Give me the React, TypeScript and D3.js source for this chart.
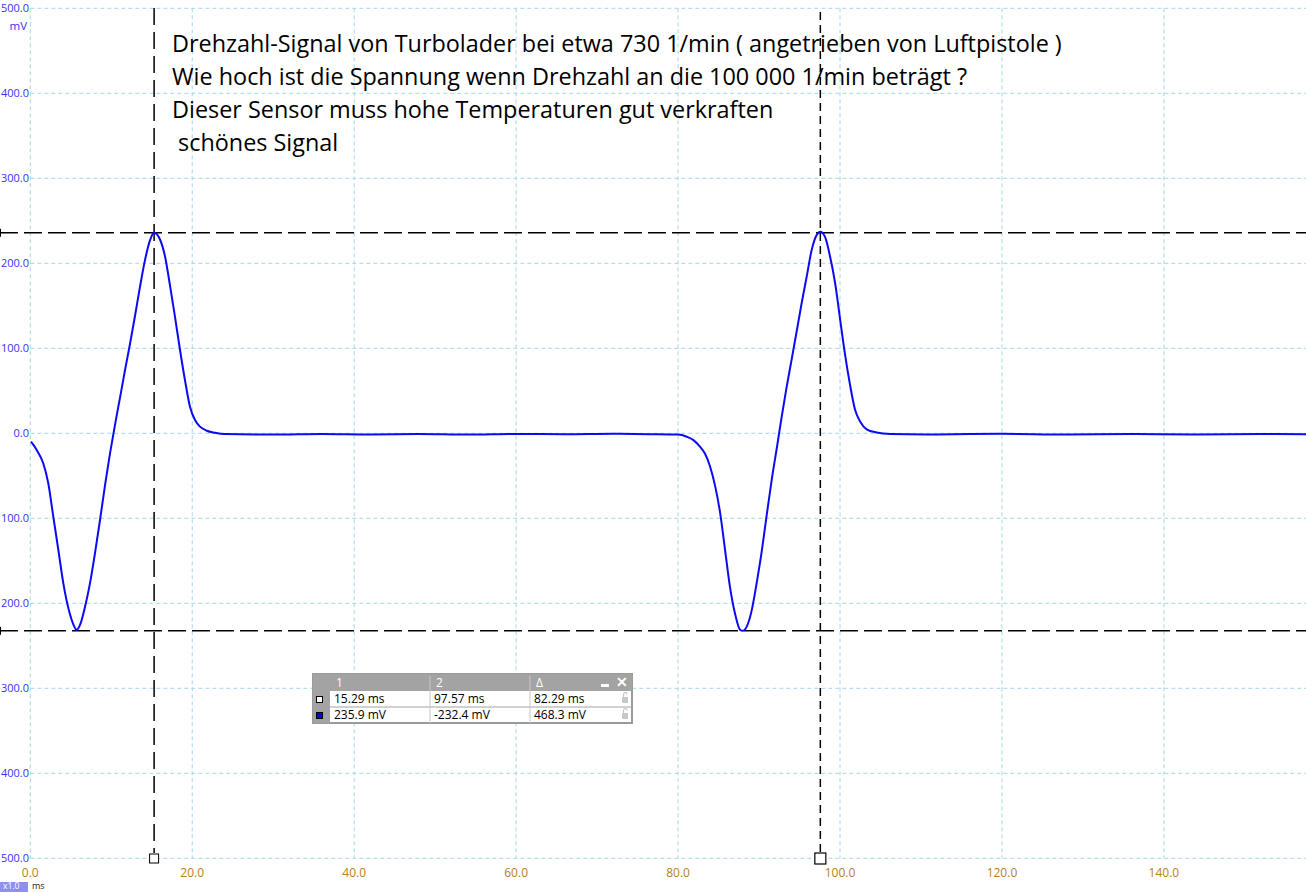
import React from "react";
import * as d3 from "d3";

// ---- data ----
const timeMs: number[] = [
  0.09, 0.79, 1.6, 2.22, 2.84, 3.46, 4.08, 4.9, 5.52, 5.73, 6.14, 6.76, 7.37, 7.99, 8.61,
  9.23, 9.84, 10.46, 11.08, 11.7, 12.31, 12.93, 13.55, 14.17, 14.78, 15.29, 16.02, 16.64, 17.25,
  17.87, 18.49, 19.1, 19.72, 20.34, 20.96, 21.8, 22.8, 24.0, 30.0, 36.0, 42.0, 48.0, 54.0, 60.0,
  66.0, 72.0, 76.5, 80.0, 81.07, 81.9, 82.7, 83.3, 83.95, 84.6, 85.2, 85.8, 86.4, 87.03, 87.65,
  87.98, 88.48, 89.1, 89.7, 90.3, 90.95, 91.56, 92.2, 92.8, 93.4, 94.03, 94.65, 95.26, 95.88,
  96.5, 97.1, 97.57, 98.15, 98.77, 99.4, 100.0, 100.6, 101.2, 101.85, 102.5, 103.3, 104.5, 106.2,
  112.0, 120.0, 128.0, 136.0, 144.0, 152.0, 157.55,
];
const voltageMv: number[] = [
  -9.9, -19.6, -35.3, -58.8, -98, -137, -176.5, -213, -229, -231.4, -225.5, -204, -176.5, -141, -102,
  -61, -24, 10, 42, 74.5, 105, 138, 172.5, 204, 227, 235.9, 228, 208, 174,
  137, 98, 62.7, 31.3, 15.6, 7.8, 3, 0.7, -0.8, -1.4, -0.7, -1.3, -0.8, -1.5, -0.7,
  -1.2, -0.6, -1, -1.5, -4, -8, -15.7, -23.5, -39, -63, -94, -137, -180, -212, -231,
  -232.4, -227.5, -208, -176.5, -141, -96, -55, -17, 19.6, 54, 87, 120, 153, 184,
  215.6, 233, 237, 231, 208, 176.5, 135, 94, 59, 28, 13.7, 4.7, 1.0, -0.8,
  -1.3, -0.6, -1.4, -0.8, -1.3, -0.7, -1,
];

const xTicks: number[] = [0, 20, 40, 60, 80, 100, 120, 140];
const yTicks: number[] = [500, 400, 300, 200, 100, 0, -100, -200, -300, -400, -500];

const titleLines: string[] = [
  "Drehzahl-Signal von Turbolader bei etwa 730 1/min ( angetrieben von Luftpistole )",
  "Wie hoch ist die Spannung wenn Drehzahl an die 100 000 1/min beträgt ?",
  "Dieser Sensor muss hohe Temperaturen gut verkraften",
  " schönes Signal",
];

const cursorTimes: number[] = [15.29, 97.57];
const cursorVolts: number[] = [235.9, -232.4];

const tableHeader: string[] = ["1", "2", "Δ"];
const tableRowTime: string[] = ["15.29 ms", "97.57 ms", "82.29 ms"];
const tableRowVolt: string[] = ["235.9 mV", "-232.4 mV", "468.3 mV"];

const W = 1306;
const H = 892;

export default function App() {
  const x = d3.scaleLinear().domain([0, 157.55]).range([30.3, 1306]);
  const y = d3.scaleLinear().domain([-500, 500]).range([858.3, 8.3]);
  const pts = timeMs.map((t, i) => [t, voltageMv[i]] as [number, number]);
  const line = d3
    .line<[number, number]>()
    .x((d) => x(d[0]))
    .y((d) => y(d[1]))
    .curve(d3.curveMonotoneX);

  const grid = "#a6d8e2";
  const font = "'Open Sans', 'Noto Sans', sans-serif";
  // the reference's left edge cuts the minus sign off the negative labels
  const yLabel = (v: number) => Math.abs(v).toFixed(1);

  const tx = 313, ty = 674, tw = 319;
  const colX = [313, 330, 430, 530, 632];
  const rowY = [674, 691, 707, 723];

  return (
    <div style={{ position: "fixed", left: 0, top: 0 }}>
      <svg width={W} height={H} style={{ display: "block", background: "#fff" }} fontFamily={font}>
        {/* grid */}
        {xTicks.map((t) => (
          <line key={"gx" + t} x1={x(t)} x2={x(t)} y1={y(500)} y2={y(-500)} stroke={grid} strokeWidth={1} strokeDasharray="4 3" />
        ))}
        {yTicks.map((v) => (
          <line key={"gy" + v} x1={x(0)} x2={W} y1={y(v)} y2={y(v)} stroke={grid} strokeWidth={1} strokeDasharray="4 3" />
        ))}
        {/* y labels */}
        {yTicks.map((v) => (
          <text key={"ly" + v} x={29} y={Math.max(y(v) + 4, 11)} textAnchor="end" fontSize={11} fill="#3a30f5">
            {yLabel(v)}
          </text>
        ))}
        <text x={27} y={30} textAnchor="end" fontSize={11.5} fill="#3a30f5">mV</text>
        {/* x labels */}
        {xTicks.map((t) => (
          <text key={"lx" + t} x={x(t)} y={877} textAnchor="middle" fontSize={12} fill="#b8801a">
            {t.toFixed(1)}
          </text>
        ))}
        <rect x={0} y={882} width={28} height={10} fill="#8f8ff0" />
        <text x={3} y={889} fontSize={8.5} fill="#fff">x1.0</text>
        <text x={32} y={889} fontSize={9} fill="#222">ms</text>

        {/* title */}
        {titleLines.map((s, i) => (
          <text key={"t" + i} x={172} y={52 + i * 33} fontSize={23.4} fill="#000" style={{ whiteSpace: "pre" }}>
            {s}
          </text>
        ))}

        {/* horizontal cursors */}
        {cursorVolts.map((v, i) => (
          <g key={"hc" + i}>
            <line x1={0} x2={W} y1={y(v)} y2={y(v)} stroke="#000" strokeWidth={1.5} strokeDasharray="18 6" />
            <line x1={0.5} x2={0.5} y1={y(v) - 4} y2={y(v) + 4} stroke="#000" strokeWidth={1} />
          </g>
        ))}
        {/* vertical cursors */}
        <line x1={x(cursorTimes[0])} x2={x(cursorTimes[0])} y1={8} y2={853} stroke="#000" strokeWidth={1.5} strokeDasharray="17 7" />
        <rect x={x(cursorTimes[0]) - 4.5} y={854} width={9} height={9} fill="#fff" stroke="#000" strokeWidth={1} />
        <line x1={x(cursorTimes[1])} x2={x(cursorTimes[1])} y1={12} y2={852} stroke="#000" strokeWidth={1.5} strokeDasharray="8 5" />
        <rect x={x(cursorTimes[1]) - 5.5} y={853} width={11} height={11} fill="#fff" stroke="#000" strokeWidth={1.2} />

        {/* waveform */}
        <path d={line(pts) || ""} fill="none" stroke="#0a0af5" strokeWidth={2} />

        {/* measurement table */}
        <rect x={tx} y={ty} width={tw} height={rowY[3] - ty} fill="#fff" stroke="#9a9a9a" strokeWidth={2} />
        <rect x={tx} y={ty} width={tw} height={rowY[1] - ty} fill="#a3a3a3" />
        <rect x={tx} y={rowY[1]} width={colX[1] - tx} height={rowY[3] - rowY[1]} fill="#a3a3a3" />
        <line x1={colX[1]} x2={colX[4]} y1={rowY[2]} y2={rowY[2]} stroke="#a3a3a3" strokeWidth={1} />
        {[2, 3].map((c) => (
          <line key={"cl" + c} x1={colX[c]} x2={colX[c]} y1={ty + 2} y2={rowY[3]} stroke={"#c8c8c8"} strokeWidth={1} />
        ))}
        {tableHeader.map((h, i) => (
          <text key={"th" + i} x={colX[i + 1] + 6} y={ty + 13} fontSize={12} fill="#fff">{h}</text>
        ))}
        <rect x={601} y={684} width={8} height={3} fill="#fff" />
        <text x={622} y={687} fontSize={14} fill="#fff" textAnchor="middle" fontWeight="bold">✕</text>
        <rect x={316.5} y={696.5} width={6} height={6} fill="#fff" stroke="#000" strokeWidth={1} />
        <rect x={316.5} y={712.5} width={6} height={6} fill="#0000e0" stroke="#000" strokeWidth={1} />
        {tableRowTime.map((s, i) => (
          <text key={"rt" + i} x={colX[i + 1] + 4} y={rowY[1] + 12} fontSize={12} fill="#000">{s}</text>
        ))}
        {tableRowVolt.map((s, i) => (
          <text key={"rv" + i} x={colX[i + 1] + 4} y={rowY[2] + 12} fontSize={12} fill="#000">{s}</text>
        ))}
        {[rowY[1], rowY[2]].map((ry, i) => (
          <g key={"lk" + i}>
            <rect x={622} y={ry + 6} width={6} height={6} fill="#c8c8c8" />
            <path d={`M623.5,${ry + 6} v-2.5 a1.8,1.8 0 0 1 3.6,0`} fill="none" stroke="#c8c8c8" strokeWidth={1.2} />
          </g>
        ))}
      </svg>
    </div>
  );
}
